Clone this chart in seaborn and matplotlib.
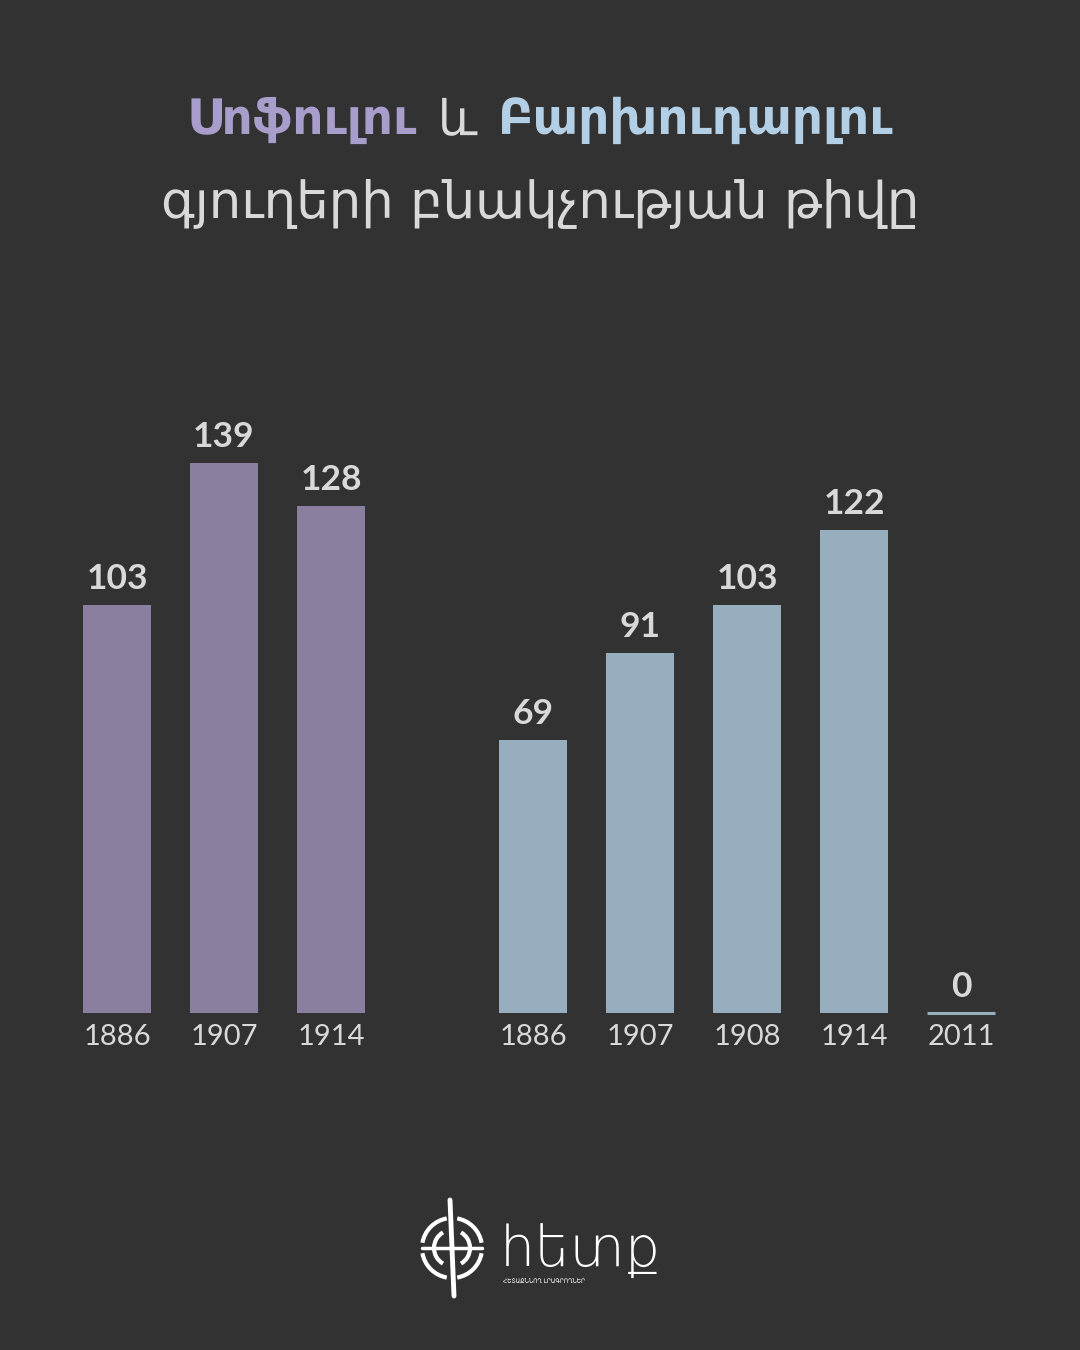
import seaborn as sns
import matplotlib.pyplot as plt
import pandas as pd
from matplotlib.patches import Arc

# population of the two villages by census year
sofulu_years = ["1886", "1907", "1914"]
sofulu_pop = [103, 139, 128]
barkh_years = ["1886", "1907", "1908", "1914", "2011"]
barkh_pop = [69, 91, 103, 122, 0]

title_a = "Սոֆուլու"
title_and = "և"
title_b = "Բարխուդարլու"
subtitle = "գյուղերի բնակչության թիվը"
logo_word = "հետք"
logo_sub = "ՀԵՏԱՔՆՆՈՂ ԼՐԱԳՐՈՂՆԵՐ"

BG = "#323232"
TXT = "#d9d9d9"
PURPLE_BAR = "#8a7f9e"
BLUE_BAR = "#96aebd"
PURPLE_TXT = "#a99dcb"
BLUE_TXT = "#b2cfe5"

sns.set_theme(style="white", rc={"axes.facecolor": BG, "figure.facecolor": BG})
plt.rcParams["font.family"] = ["Lato", "DejaVu Sans"]

W, H = 1080, 1350
fig = plt.figure(figsize=(10.8, 13.5), dpi=100, facecolor=BG)


def px_axes(x0, x1, ytop, ybot):
    return fig.add_axes([x0 / W, 1 - ybot / H, (x1 - x0) / W, (ybot - ytop) / H])


ax1 = px_axes(63.5, 384.5, 419, 1013)
ax2 = px_axes(479.5, 1014.5, 419, 1013)

df1 = pd.DataFrame({"year": sofulu_years, "pop": sofulu_pop})
df2 = pd.DataFrame({"year": barkh_years, "pop": barkh_pop})

for ax, df, col in [(ax1, df1, PURPLE_BAR), (ax2, df2, BLUE_BAR)]:
    sns.barplot(data=df, x="year", y="pop", color=col, saturation=1, width=0.63,
                linewidth=0, ax=ax)
    ax.set_ylim(0, 150)
    ax.set_xlim(-0.5, len(df) - 0.5)
    ax.bar_label(ax.containers[0], padding=7, fontsize=25.5, fontweight="bold", color=TXT)
    ax.set_xlabel("")
    ax.set_ylabel("")
    ax.set_yticks([])
    ax.tick_params(axis="x", length=0, pad=8)
    for lbl in ax.get_xticklabels():
        lbl.set_fontsize(21)
        lbl.set_color(TXT)
    sns.despine(ax=ax, left=True, bottom=True)
    ax.patch.set_alpha(0)

# the 2011 bar is zero: show it as a thin line
zero_bar = ax2.patches[-1]
zero_bar.set_edgecolor(BLUE_BAR)
zero_bar.set_linewidth(2.2)
zero_bar.set_clip_on(False)

# title, first line in three colours
renderer = fig.canvas.get_renderer()
pieces = [(title_a, PURPLE_TXT, "bold"), (title_and, TXT, "normal"), (title_b, BLUE_TXT, "bold")]
gap = 21
texts = []
for s, c, w in pieces:
    t = fig.text(0, 1 - 120 / H, s, color=c, fontsize=35, fontweight=w,
                 family=["DejaVu Sans"], va="center", ha="left")
    texts.append(t)
widths = [t.get_window_extent(renderer).width for t in texts]
total = sum(widths) + gap * (len(widths) - 1)
x = (W - total) / 2
for t, w in zip(texts, widths):
    t.set_x(x / W)
    x += w + gap

fig.text(0.5, 1 - 203 / H, subtitle, color=TXT, fontsize=37, family=["DejaVu Sans"],
         ha="center", va="center")

# logo
lax = fig.add_axes([0, 0, 1, 1])
lax.set_xlim(0, W)
lax.set_ylim(H, 0)
lax.axis("off")
cx, cy = 452, 1248
for r, a0, a1 in [(30, 100, 170), (30, 190, 260), (30, 280, 350), (30, 10, 80),
                  (18, 120, 240), (18, 300, 60)]:
    lax.add_patch(Arc((cx, cy), 2 * r, 2 * r, theta1=a0, theta2=a1, color="white", lw=3))
lax.plot([cx - 2, cx, cx + 2], [1200, 1248, 1296], color="white", lw=3.5, solid_capstyle="round")
lax.plot([cx - 30, cx + 30], [cy, cy], color="white", lw=2.5)
lax.text(500, 1266, logo_word, color="white", fontsize=40, fontweight="light",
         family=["DejaVu Sans"], ha="left", va="baseline")
lax.text(503, 1281, logo_sub, color="white", fontsize=4.2, family=["DejaVu Sans"],
         ha="left", va="center")

fig.savefig("out.png", dpi=100, facecolor=BG)
